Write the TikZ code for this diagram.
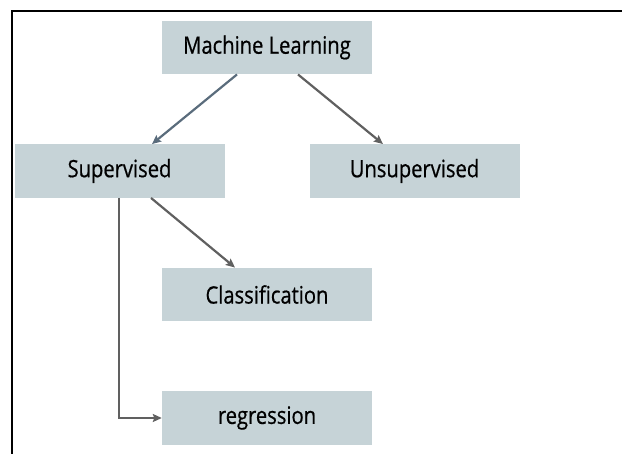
\documentclass[tikz,border=0pt]{standalone}
\usepackage{fontspec}
\setmainfont{Open Sans}[FakeStretch=0.84,FakeBold=0.6]
\usetikzlibrary{arrows.meta}
\definecolor{boxfill}{HTML}{C6D3D7}
\definecolor{linkgray}{HTML}{606060}
\definecolor{linkblue}{HTML}{5A6C7C}
\begin{document}
\begin{tikzpicture}[x=1pt,y=-1pt,
  box/.style={fill=boxfill, draw=none, minimum width=210pt, minimum height=53.5pt,
    inner sep=0pt, font=\fontsize{24}{28}\selectfont, text=black},
  link/.style={draw=linkgray, line width=2.2pt,
    -{Stealth[length=9pt,width=8pt,inset=1.5pt]}}]
  \useasboundingbox (0,0) rectangle (622,454);
  % outer frame: left and top edges only
  \draw[line width=2pt, black] (12,454) -- (12,11) -- (622,11);

  \node[box] (ml)    at (267,47.5)  {Machine Learning};
  \node[box] (sup)   at (119.5,171) {Supervised};
  \node[box] (unsup) at (414.5,171) {Unsupervised};
  \node[box] (cls)   at (267,294.5) {Classification};
  \node[box] (reg)   at (267,418)   {regression};

  \draw[link, draw=linkblue] ([xshift=-30pt]ml.south) -- ([xshift=32.5pt]sup.north);
  \draw[link] ([xshift=31pt]ml.south) -- ([xshift=-31.5pt]unsup.north);
  \draw[link] ([xshift=31.5pt]sup.south) -- ([xshift=-32pt]cls.north);
  \draw[link] ([xshift=-0.5pt]sup.south) |- (reg.west);
\end{tikzpicture}
\end{document}
